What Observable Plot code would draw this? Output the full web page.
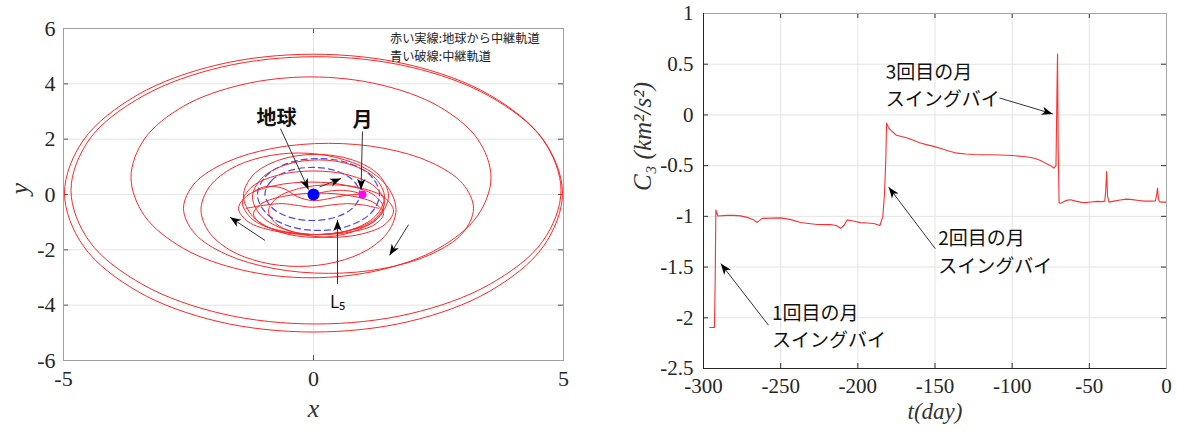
<!DOCTYPE html>
<html><head><meta charset="utf-8">
<script src="https://cdn.jsdelivr.net/npm/d3@7"></script>
<script src="https://cdn.jsdelivr.net/npm/@observablehq/plot@0.6"></script>
<style>
body{margin:0;background:#fff;width:1177px;height:431px;overflow:hidden;position:relative;}
#left{position:absolute;left:0;top:0;}
#right{position:absolute;left:600px;top:0;}
</style></head><body>
<div id="left"></div><div id="right"></div>
<script>
// ---------- LEFT PANEL DATA (orbit in normalized units) ----------
const xTicksL = [-5, 0, 5];
const yTicksL = [6, 4, 2, 0, -2, -4, -6];
const loopOuterA = [[-4.98,0.05],[-4.60,1.97],[-3.52,3.60],[-1.91,4.69],[0,5.07],[1.91,4.69],[3.52,3.60],[4.60,1.97],[4.98,0.05],[4.60,-1.87],[3.52,-3.50],[1.91,-4.59],[0,-4.97],[-1.91,-4.59],[-3.52,-3.50],[-4.60,-1.87]];
const loopOuterB = [[-4.85,0.15],[-4.48,2.0],[-3.41,3.56],[-1.83,4.61],[0.05,4.98],[1.93,4.61],[3.51,3.56],[4.58,2.0],[4.95,0.15],[4.58,-1.70],[3.51,-3.26],[1.93,-4.31],[0.05,-4.68],[-1.83,-4.31],[-3.41,-3.26],[-4.48,-1.70]];
const loopLarge = [[-3.65,0.62],[-3.38,2.01],[-2.60,3.19],[-1.43,3.97],[-0.05,4.25],[1.33,3.97],[2.50,3.19],[3.28,2.01],[3.55,0.62],[3.28,-0.77],[2.50,-1.95],[1.33,-2.73],[-0.05,-3.01],[-1.43,-2.73],[-2.60,-1.95],[-3.38,-0.77]];
const loopMidA = [[-2.6,-0.5],[-2.38,0.40],[-1.75,1.16],[-0.81,1.67],[0.3,1.85],[1.41,1.67],[2.35,1.16],[2.98,0.40],[3.2,-0.5],[2.98,-1.40],[2.35,-2.16],[1.41,-2.67],[0.3,-2.85],[-0.81,-2.67],[-1.75,-2.16],[-2.38,-1.40]];
const loopMidB = [[-2.25,-0.55],[-2.10,0.23],[-1.68,0.90],[-1.05,1.34],[-0.3,1.5],[0.45,1.34],[1.08,0.90],[1.50,0.23],[1.65,-0.55],[1.50,-1.33],[1.08,-2.0],[0.45,-2.44],[-0.3,-2.6],[-1.05,-2.44],[-1.68,-2.0],[-2.10,-1.33]];
const loopInner1 = [[-1.40,-0.05],[-1.21,0.70],[-0.68,1.25],[0.05,1.45],[0.78,1.25],[1.31,0.70],[1.50,-0.05],[1.31,-0.80],[0.78,-1.35],[0.05,-1.55],[-0.68,-1.35],[-1.21,-0.80]];
const loopInner2 = [[-1.22,-0.1],[-1.04,0.58],[-0.56,1.07],[0.1,1.25],[0.76,1.07],[1.24,0.58],[1.42,-0.1],[1.24,-0.78],[0.76,-1.27],[0.1,-1.45],[-0.56,-1.27],[-1.04,-0.78]];
const loopInner3 = [[-1.42,-0.3],[-1.23,0.28],[-0.71,0.70],[0,0.85],[0.71,0.70],[1.23,0.28],[1.42,-0.3],[1.23,-0.88],[0.71,-1.30],[0,-1.45],[-0.71,-1.30],[-1.23,-0.88]];
const loopInner4 = [[-1.50,-0.5],[-1.31,-0.02],[-0.78,0.32],[-0.05,0.45],[0.68,0.32],[1.21,-0.02],[1.40,-0.5],[1.21,-0.98],[0.68,-1.32],[-0.05,-1.45],[-0.78,-1.32],[-1.31,-0.98]];
const loopInner5 = [[-1.2,-0.7],[-1.03,-0.32],[-0.55,-0.05],[0.1,0.05],[0.75,-0.05],[1.23,-0.32],[1.4,-0.7],[1.23,-1.08],[0.75,-1.35],[0.1,-1.45],[-0.55,-1.35],[-1.03,-1.08]];
const loopInner6 = [[-0.9,-0.6],[-0.73,-0.12],[-0.28,0.22],[0.35,0.35],[0.98,0.22],[1.43,-0.12],[1.6,-0.6],[1.43,-1.08],[0.98,-1.42],[0.35,-1.55],[-0.28,-1.42],[-0.73,-1.08]];
const pathWaveUpper = [[-1.2,0.1],[-1.0,0.27],[-0.8,0.29],[-0.59,0.21],[-0.32,-0.08],[-0.02,-0.22],[0.28,-0.16],[0.61,-0.04],[0.95,0.02]];
const pathWaveLower = [[-1.35,-0.5],[-0.95,-0.38],[-0.62,-0.33],[-0.3,-0.4],[-0.02,-0.46],[0.35,-0.38],[0.68,-0.33],[1.0,-0.38],[1.3,-0.5]];
const pathEarthMoon = [[0,0],[0.3,0.12],[0.6,0.15],[0.85,0.08],[0.98,0]];
const relayOuter = [[-1.12,0],[-0.96,0.65],[-0.51,1.13],[0.1,1.3],[0.71,1.13],[1.16,0.65],[1.32,0],[1.16,-0.65],[0.71,-1.13],[0.1,-1.3],[-0.51,-1.13],[-0.96,-0.65]];
const relayInner = [[-0.97,0.02],[-0.84,0.50],[-0.50,0.85],[-0.02,0.98],[0.46,0.85],[0.80,0.50],[0.93,0.02],[0.80,-0.46],[0.46,-0.81],[-0.02,-0.94],[-0.50,-0.81],[-0.84,-0.46]];
const earthPos = [0, 0];
const moonPos = [0.98, 0];
const bodyLabels = ["地球", "月"];
const bodyLabelX = [-0.74, 0.98];
const bodyLabelY = [2.74, 2.68];
const arrowLX1 = [-0.66, 0.98, 0.12, -0.97, 1.9, 0.48];
const arrowLY1 = [2.38, 2.28, 0.27, -1.66, -1.09, -3.23];
const arrowLX2 = [-0.1, 0.95, 0.55, -1.67, 1.52, 0.48];
const arrowLY2 = [0.18, 0.17, 0.58, -0.82, -2.2, -0.92];
const l5Label = "L₅";
const l5Pos = [0.48, -3.9];
const legendLines = ["赤い実線:地球から中継軌道", "青い破線:中継軌道"];
const legendX = 1.53;
const legendY = [5.62, 4.96];

// ---------- RIGHT PANEL DATA ----------
const xTicksR = [-300, -250, -200, -150, -100, -50, 0];
const yTicksR = [1, 0.5, 0, -0.5, -1, -1.5, -2, -2.5];
const tDay = [-295.9,-292.9,-292.4,-292.0,-290.7,-285,-280.4,-276,-271.7,-268,-265.2,-262,-256,-250,-244,-237,-232,-226.3,-221,-217.7,-214,-211.2,-209,-206.9,-203,-198.2,-194,-189.6,-185.7,-183.8,-182.7,-181.8,-181.4,-180,-178,-175,-171,-168,-164,-160,-155,-150.9,-145,-140,-135.6,-130,-125,-120,-114,-108,-100,-92.6,-88,-85,-81.6,-78,-75.1,-73,-71.6,-71.0,-70.6,-70.2,-69.6,-68.5,-66,-64,-62.1,-59,-55,-52.4,-49,-45,-42,-40,-39.4,-38.8,-38.2,-37.2,-34,-30,-26,-22,-18,-14,-10,-7.2,-6.3,-5.8,-5.3,-4.6,-3,-1,0];
const c3 = [-2.096,-2.096,-1.6,-0.937,-0.996,-0.99,-0.99,-0.995,-1.01,-1.03,-1.06,-1.02,-1.017,-1.015,-1.03,-1.06,-1.07,-1.08,-1.082,-1.08,-1.09,-1.118,-1.09,-1.035,-1.045,-1.062,-1.066,-1.07,-1.09,-1.0,-0.77,-0.4,-0.08,-0.13,-0.16,-0.2,-0.215,-0.228,-0.25,-0.275,-0.295,-0.31,-0.335,-0.36,-0.377,-0.385,-0.39,-0.392,-0.393,-0.395,-0.4,-0.41,-0.42,-0.43,-0.45,-0.48,-0.50,-0.525,-0.5,0.2,0.6,-0.3,-0.865,-0.87,-0.85,-0.84,-0.836,-0.85,-0.862,-0.865,-0.858,-0.852,-0.855,-0.85,-0.75,-0.558,-0.8,-0.86,-0.85,-0.838,-0.83,-0.835,-0.843,-0.85,-0.85,-0.848,-0.78,-0.72,-0.82,-0.855,-0.86,-0.86,-0.86];
const swingLine1 = ["3回目の月", "2回目の月", "1回目の月"];
const swingLine2 = ["スイングバイ", "スイングバイ", "スイングバイ"];
const swingT = [-181.9, -147.9, -255.6];
const swingY1 = [0.41, -1.227, -1.965];
const swingY2 = [0.15, -1.50, -2.23];
const arrowRT1 = [-108.2, -149.8, -257.9];
const arrowRY1 = [0.167, -1.319, -2.073];
const arrowRT2 = [-73.7, -180.0, -288.8];
const arrowRY2 = [0.01, -0.712, -1.466];

// ---------- helpers ----------
const toRows = (obj) => Object.entries(obj).flatMap(([k, pts]) => pts.map(([x, y]) => ({k, x, y})));
function fillMarkers(svg) {
  d3.select(svg).selectAll("marker").each(function () {
    const m = d3.select(this);
    m.attr("viewBox", "-11 -6 12 12").attr("markerWidth", 12).attr("markerHeight", 12)
     .attr("markerUnits", "userSpaceOnUse").attr("fill", "#000").attr("stroke", "none");
    m.selectAll("*").remove();
    m.append("path").attr("d", "M-11,-4.2L0,0L-11,4.2L-8,0Z");
  });
}
const CJK = "'Noto Sans CJK JP', 'Noto Sans', sans-serif";
const SERIF = "'Liberation Serif', 'DejaVu Serif', serif";

// ---------- LEFT PLOT ----------
const L = {w: 600, h: 431, t: 28, r: 37, b: 71, l: 63};
const innerWL = L.w - L.l - L.r, innerHL = L.h - L.t - L.b;
const redLoops = toRows({loopOuterA, loopOuterB, loopLarge, loopMidA, loopMidB, loopInner1, loopInner2, loopInner3, loopInner4, loopInner5, loopInner6});
const redPaths = toRows({pathWaveUpper, pathWaveLower, pathEarthMoon});
const blueLoops = toRows({relayOuter, relayInner});
const leftArrows = arrowLX1.map((x1, i) => ({x1, y1: arrowLY1[i], x2: arrowLX2[i], y2: arrowLY2[i]}));

const leftPlot = Plot.plot({
  width: L.w, height: L.h, marginTop: L.t, marginRight: L.r, marginBottom: L.b, marginLeft: L.l,
  style: {fontFamily: SERIF, fontSize: "20px", color: "#262626", background: "white", overflow: "visible"},
  x: {domain: [-5, 5]}, y: {domain: [-6, 6]},
  marks: [
    Plot.ruleY(yTicksL, {stroke: "#e4e4e4"}),
    Plot.ruleX([0], {stroke: "#e4e4e4"}),
    Plot.tickX(xTicksL, {x: d => d, insetTop: innerHL - 5, stroke: "#555"}),
    Plot.tickX(xTicksL, {x: d => d, insetBottom: innerHL - 5, stroke: "#555"}),
    Plot.tickY(yTicksL, {y: d => d, insetRight: innerWL - 5, stroke: "#555"}),
    Plot.tickY(yTicksL, {y: d => d, insetLeft: innerWL - 5, stroke: "#555"}),
    Plot.axisX(xTicksL, {tickSize: 0, tickPadding: 10, tickFormat: d => String(d), label: null, fontSize: 22}),
    Plot.axisY(yTicksL, {tickSize: 0, tickPadding: 8, tickFormat: d => String(d), label: null, fontSize: 22}),
    Plot.line(blueLoops, {x: "x", y: "y", z: "k", curve: "catmull-rom-closed", stroke: "#4646ff", strokeWidth: 1.2, strokeDasharray: "6,4"}),
    Plot.line(redLoops, {x: "x", y: "y", z: "k", curve: "catmull-rom-closed", stroke: "#ff2626", strokeWidth: 1}),
    Plot.line(redPaths, {x: "x", y: "y", z: "k", curve: "catmull-rom", stroke: "#ff2626", strokeWidth: 1}),
    Plot.dot([earthPos], {x: d => d[0], y: d => d[1], r: 6, fill: "#0000ff", stroke: null}),
    Plot.dot([moonPos], {x: d => d[0], y: d => d[1], r: 4, fill: "#ff00ff", stroke: null}),
    Plot.link(leftArrows, {x1: "x1", y1: "y1", x2: "x2", y2: "y2", stroke: "#333", strokeWidth: 1, markerEnd: "arrow"}),
    Plot.text(bodyLabels, {x: (d, i) => bodyLabelX[i], y: (d, i) => bodyLabelY[i], text: d => d, fontFamily: CJK, fontSize: 20, fontWeight: "bold", fill: "#111"}),
    Plot.text([l5Label], {x: l5Pos[0], y: l5Pos[1], text: d => d, fontFamily: CJK, fontSize: 17, fill: "#111"}),
    Plot.text(legendLines, {x: legendX, y: (d, i) => legendY[i], text: d => d, textAnchor: "start", fontFamily: CJK, fontSize: 12.2, fill: "#222"}),
    Plot.text(["x"], {frameAnchor: "bottom", dy: 56, fontStyle: "italic", fontSize: 26, fill: "#333"}),
    Plot.text(["y"], {frameAnchor: "left", dx: -44, rotate: -90, fontStyle: "italic", fontSize: 26, fill: "#333"}),
    Plot.frame({stroke: "#a0a0a0"})
  ]
});
fillMarkers(leftPlot);
document.getElementById("left").append(leftPlot);

// ---------- RIGHT PLOT ----------
const R = {w: 577, h: 431, t: 13, r: 11, b: 63, l: 103};
const innerWR = R.w - R.l - R.r, innerHR = R.h - R.t - R.b;
const c3Rows = tDay.map((t, i) => ({t, c3: c3[i]}));
const rightArrows = arrowRT1.map((x1, i) => ({x1, y1: arrowRY1[i], x2: arrowRT2[i], y2: arrowRY2[i]}));

const rightPlot = Plot.plot({
  width: R.w, height: R.h, marginTop: R.t, marginRight: R.r, marginBottom: R.b, marginLeft: R.l,
  style: {fontFamily: SERIF, fontSize: "20px", color: "#262626", background: "white", overflow: "visible"},
  x: {domain: [-300, 0]}, y: {domain: [-2.5, 1]},
  marks: [
    Plot.ruleX(xTicksR, {stroke: "#e4e4e4"}),
    Plot.ruleY(yTicksR, {stroke: "#e4e4e4"}),
    Plot.tickX(xTicksR, {x: d => d, insetTop: innerHR - 5, stroke: "#333"}),
    Plot.tickX(xTicksR, {x: d => d, insetBottom: innerHR - 5, stroke: "#333"}),
    Plot.tickY(yTicksR, {y: d => d, insetRight: innerWR - 5, stroke: "#333"}),
    Plot.tickY(yTicksR, {y: d => d, insetLeft: innerWR - 5, stroke: "#333"}),
    Plot.axisX(xTicksR, {tickSize: 0, tickPadding: 10, tickFormat: d => String(d), label: null, fontSize: 21}),
    Plot.axisY(yTicksR, {tickSize: 0, tickPadding: 10, tickFormat: d => String(d), label: null, fontSize: 21}),
    Plot.line(c3Rows, {x: "t", y: "c3", stroke: "#ff3030", strokeWidth: 1.1}),
    Plot.link(rightArrows, {x1: "x1", y1: "y1", x2: "x2", y2: "y2", stroke: "#333", strokeWidth: 1, markerEnd: "arrow"}),
    Plot.text(swingLine1, {x: (d, i) => swingT[i], y: (d, i) => swingY1[i], text: d => d, textAnchor: "start", fontFamily: CJK, fontSize: 19, fill: "#111"}),
    Plot.text(swingLine2, {x: (d, i) => swingT[i], y: (d, i) => swingY2[i], text: d => d, textAnchor: "start", fontFamily: CJK, fontSize: 19, fill: "#111"}),
    Plot.text(["C₃ (km²/s²)"], {frameAnchor: "left", dx: -61, rotate: -90, fontStyle: "italic", fontSize: 25, fill: "#333"}),
    Plot.text(["t(day)"], {frameAnchor: "bottom", dy: 50, fontStyle: "italic", fontSize: 23, fill: "#333"}),
    Plot.frame({stroke: "#a6a6a6"}),
    Plot.ruleX([-300], {stroke: "#262626"}),
    Plot.ruleY([-2.5], {stroke: "#262626"})
  ]
});
fillMarkers(rightPlot);
document.getElementById("right").append(rightPlot);
</script></body></html>
